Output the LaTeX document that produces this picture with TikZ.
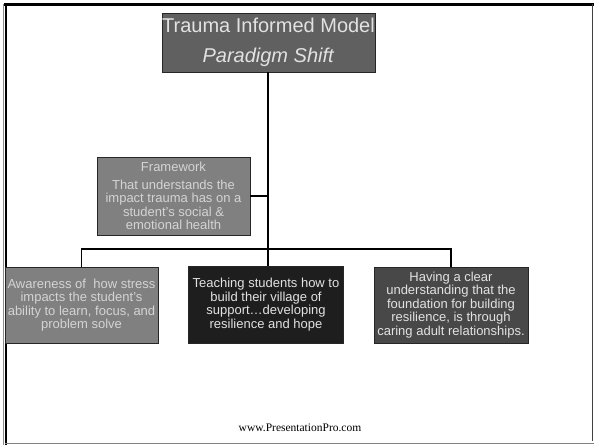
\documentclass[tikz,border=0pt]{standalone}
\usepackage{fontspec}
\setmainfont{Liberation Sans}
\newfontfamily\footfont{Liberation Serif}
\definecolor{titlefill}{HTML}{606060}
\definecolor{midgray}{HTML}{808080}
\definecolor{darkfill}{HTML}{1E1E1E}
\definecolor{rightfill}{HTML}{484848}
\definecolor{lighttext}{HTML}{E2E2E2}
\definecolor{softtext}{HTML}{D4D4D4}
\begin{document}
\begin{tikzpicture}[x=1pt,y=-1pt,
  box/.style={draw=black!85,line width=0.9pt,rectangle,inner sep=0pt,align=center,font=\fontsize{13}{13.5}\selectfont},
  link/.style={draw=black,line width=1.6pt}]
\useasboundingbox (0,0) rectangle (594,445);
% frame
\draw[black!45,line width=1pt] (3.5,4) -- (3.5,445);
\draw[black,line width=2pt] (5.5,4) -- (5.5,445);
\draw[black,line width=2.5pt] (4,4.5) -- (594,4.5);
\draw[black!75,line width=1pt] (592.5,4) -- (592.5,441);
\draw[black!50,line width=1pt] (5,443.5) -- (594,443.5);
% nodes
\node[box,fill=titlefill,text=lighttext,minimum width=213pt,minimum height=59pt,font=\fontsize{20}{30}\selectfont] (title) at (268.5,42.5) {Trauma Informed Model\\\textit{Paradigm Shift}};
\node[box,fill=midgray,text=softtext,minimum width=153pt,minimum height=78pt] (fw) at (173.5,196) {Framework\\[4.5pt]That understands the\\impact trauma has on a\\student’s social \&\\emotional health};
\node[box,fill=midgray,text=softtext,minimum width=153pt,minimum height=76pt] (left) at (81.5,305) {Awareness of\ \ how stress\\impacts the student’s\\ability to learn, focus, and\\problem solve};
\node[box,fill=darkfill,text=lighttext,minimum width=155pt,minimum height=77pt] (mid) at (266,304.5) {Teaching students how to\\build their village of\\support…developing\\resilience and hope};
\node[box,fill=rightfill,text=lighttext,minimum width=154pt,minimum height=76pt] (right) at (451,305) {Having a clear\\understanding that the\\foundation for building\\resilience, is through\\caring adult relationships.};
\node[font=\footfont\fontsize{11.5}{13}\selectfont] (foot) at (300,428) {www.PresentationPro.com};
% connectors
\coordinate (bar) at (268,249);
\draw[link] (title.south -| bar) -- (bar |- mid.north);
\draw[link] (fw.east) -- (fw.east -| bar);
\draw[link] (left.north) -- (left.north |- bar) -- (right.north |- bar) -- (right.north);
\end{tikzpicture}
\end{document}
